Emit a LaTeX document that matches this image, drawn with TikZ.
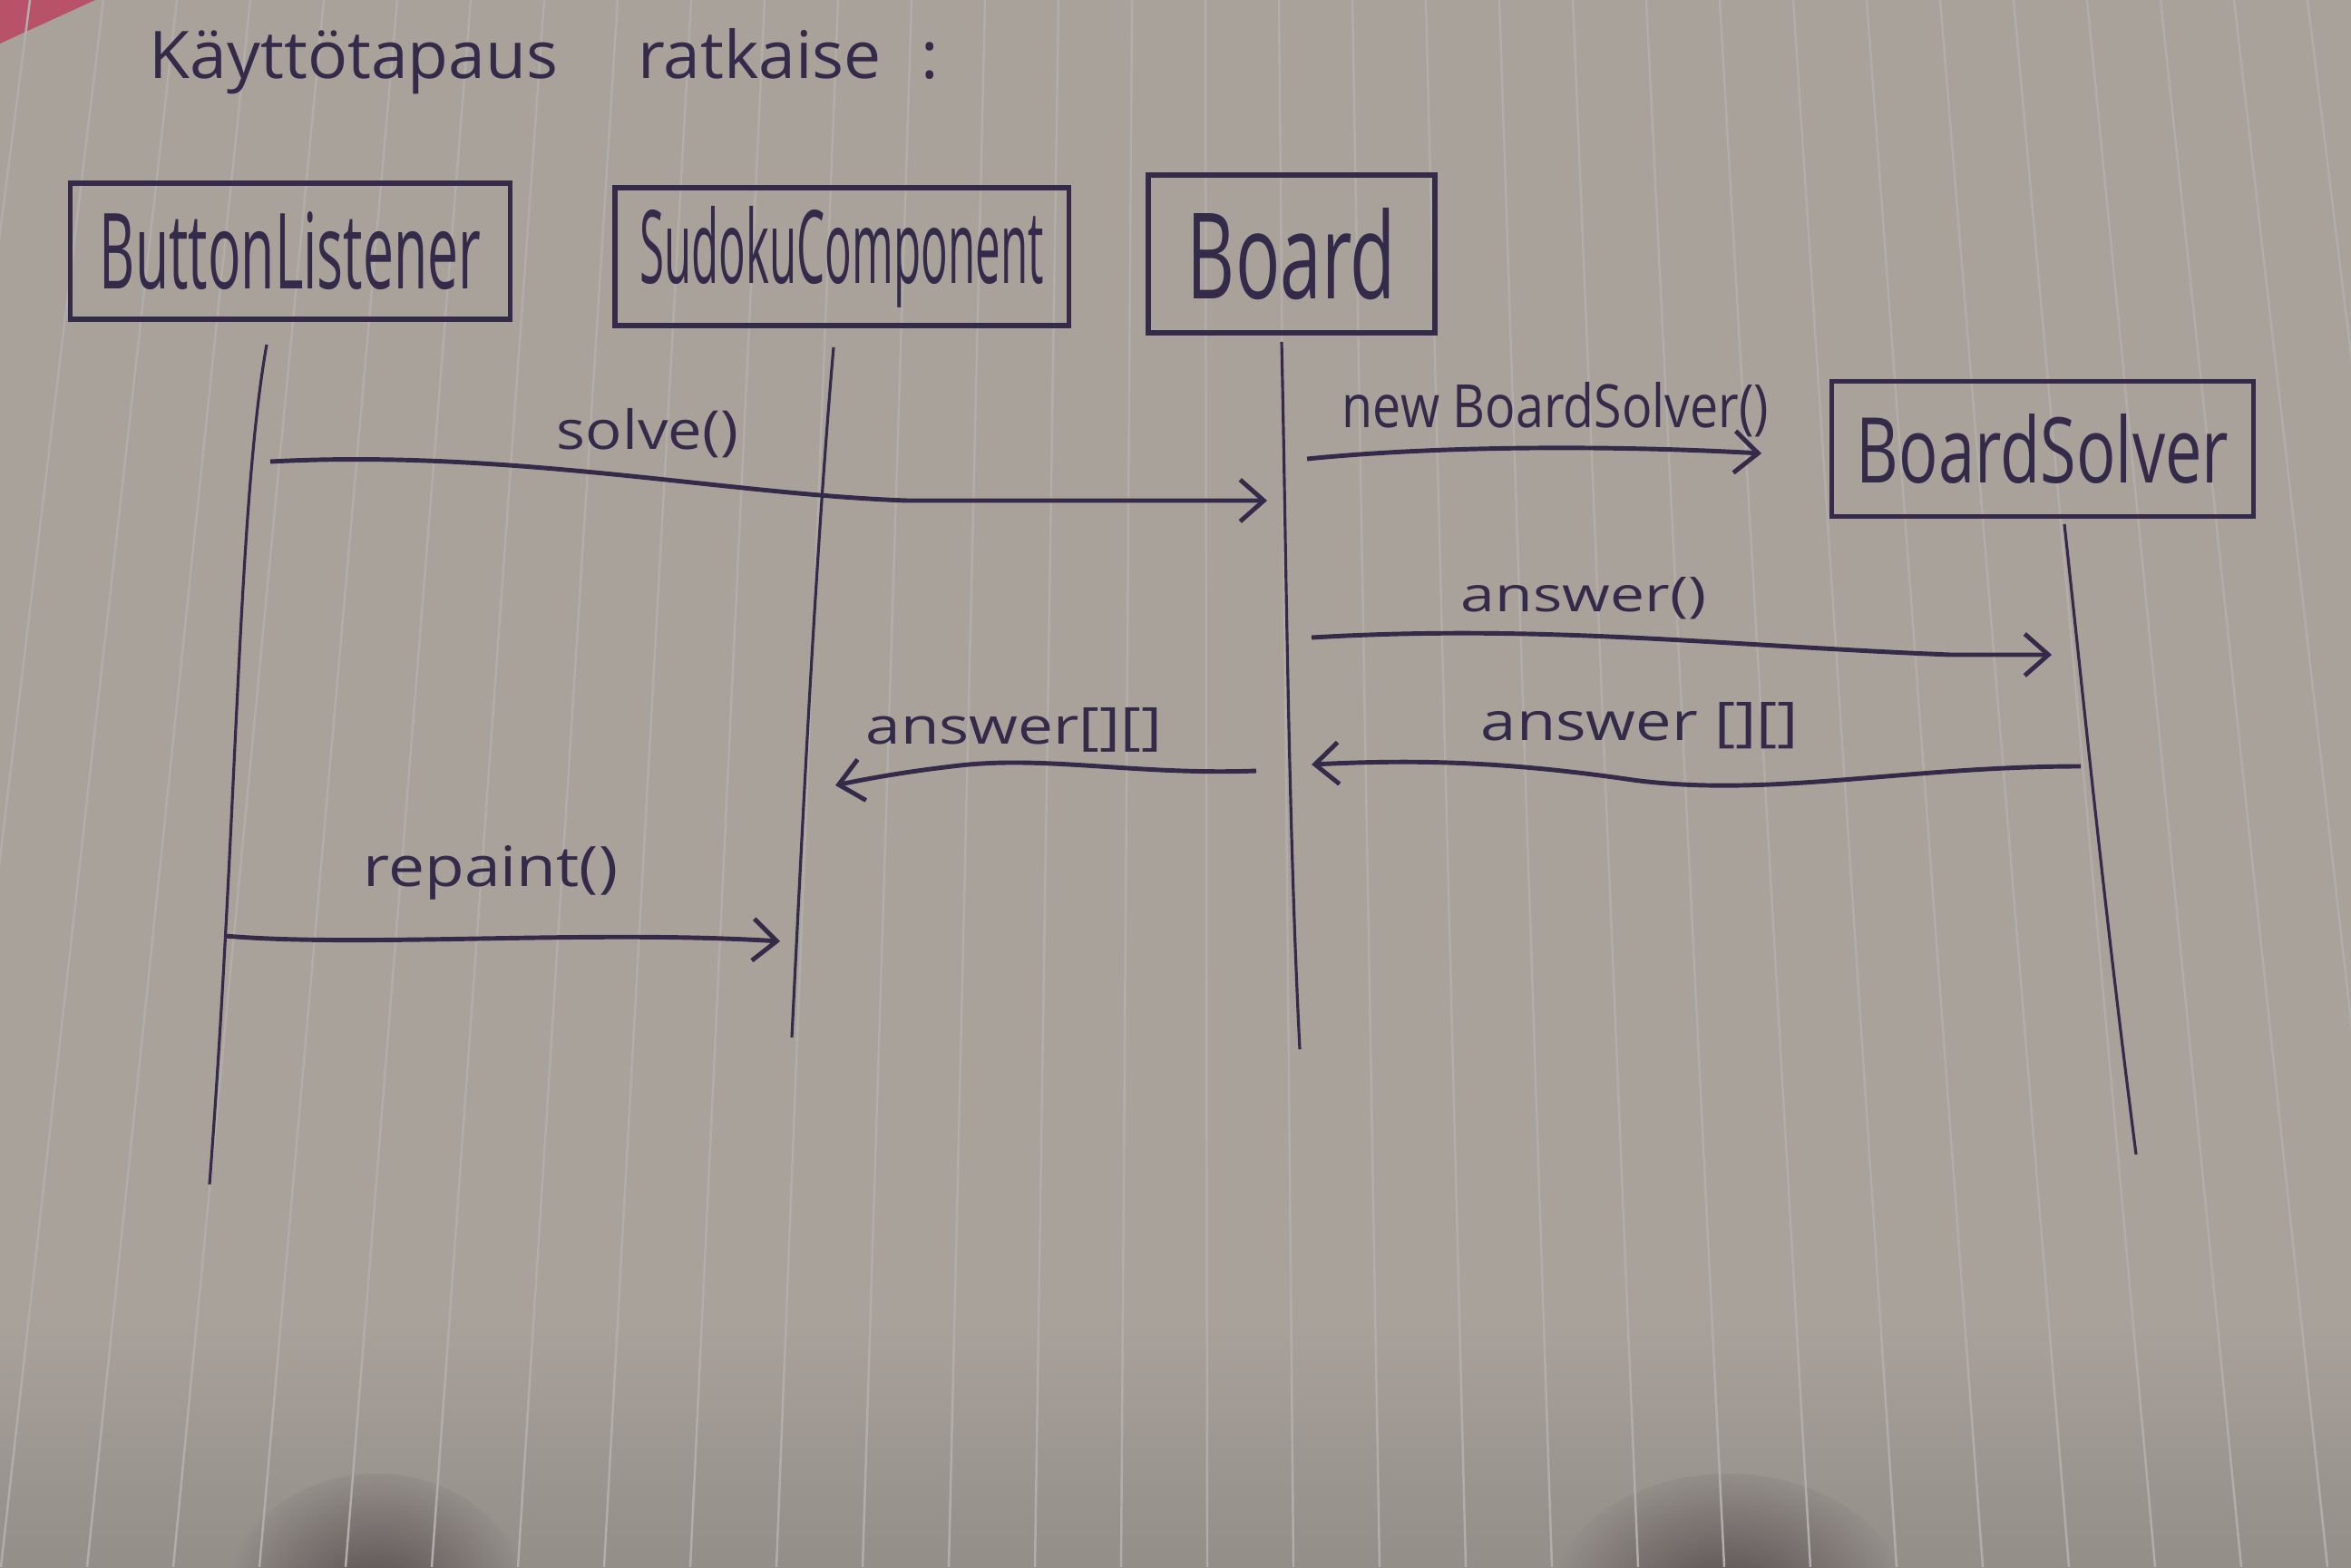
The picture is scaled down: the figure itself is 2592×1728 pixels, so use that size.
\documentclass[tikz,border=0pt]{standalone}
\usepackage{fontspec}
\setmainfont{Open Sans}
\usetikzlibrary{arrows.meta}
\definecolor{paper}{HTML}{A8A29B}
\definecolor{paperdark}{HTML}{948E89}
\definecolor{rulec}{HTML}{B1ADAA}
\definecolor{ink}{HTML}{342B4A}
\definecolor{tablered}{HTML}{B85269}
\definecolor{shadow}{HTML}{4E4749}
\newcommand\hw[3]{\resizebox{#1cm}{#2cm}{#3}}
\begin{document}
\begin{tikzpicture}[x=0.01cm,y=-0.01cm,
  obj/.style={draw=ink, line width=1.5pt, rectangle, inner sep=0pt, text=ink},
  life/.style={draw=ink, line width=0.9pt},
  msg/.style={draw=ink, line width=1.4pt, -{Straight Barb[length=0.26cm,width=0.46cm,line width=1.4pt]}},
  lbl/.style={text=ink, inner sep=0pt}]
% paper
\useasboundingbox (0,0) rectangle (2592,1728);
\fill[paper] (0,0) rectangle (2592,1728);
\shade[top color=paper, bottom color=paperdark] (0,1450) rectangle (2592,1728);
\shade[inner color=shadow, outer color=paperdark] (415,1775) ellipse [x radius=170, y radius=150];
\shade[inner color=shadow, outer color=paperdark] (1905,1775) ellipse [x radius=200, y radius=150];
\fill[tablered] (0,0) -- (105,0) -- (0,48) -- cycle;
\foreach \k in {-16,...,15} {
  \draw[rulec, line width=0.7pt] ({1329+81*\k},0) -- ({1331+95*\k},1728);
}
% title
\node[lbl] (title) at (600,68) {\hw{8.7}{0.55}{Käyttötapaus\hspace{1.2em}ratkaise\hspace{0.6em}:}};
% objects
\node[obj, minimum width=4.84cm, minimum height=1.5cm] (bl) at (320,277) {\hw{4.2}{0.85}{ButtonListener}};
\node[obj, minimum width=5.0cm, minimum height=1.52cm] (sc) at (928,283) {\hw{4.45}{0.85}{SudokuComponent}};
\node[obj, minimum width=3.16cm, minimum height=1.74cm] (bd) at (1424,280) {\hw{2.3}{1.0}{Board}};
\node[obj, minimum width=4.65cm, minimum height=1.49cm] (bs) at (2252,495) {\hw{4.1}{0.76}{BoardSolver}};
% lifelines
\coordinate (blT) at (294,380); \coordinate (blB) at (231,1306);
\coordinate (scT) at (919,383); \coordinate (scB) at (873,1144);
\coordinate (bdT) at (1413,377); \coordinate (bdB) at (1433,1157);
\coordinate (bsT) at (2276,578); \coordinate (bsB) at (2355,1273);
\draw[life] (blT) .. controls (262,560) and (262,900) .. (blB);
\draw[life] (scT) .. controls (900,600) and (885,900) .. (scB);
\draw[life] (bdT) .. controls (1418,600) and (1420,900) .. (bdB);
\draw[life] (bsT) .. controls (2300,800) and (2320,1000) .. (bsB);
% message end points
\coordinate (m1a) at (298,509); \coordinate (m1b) at (1397,552);
\coordinate (m2a) at (1441,506); \coordinate (m2b) at (1942,500);
\coordinate (m3a) at (1446,703); \coordinate (m3b) at (2262,722);
\coordinate (m4a) at (2294,845); \coordinate (m4b) at (1446,843);
\coordinate (m5a) at (1385,850); \coordinate (m5b) at (921,866);
\coordinate (m6a) at (248,1032); \coordinate (m6b) at (860,1038);
% messages
\draw[msg] (m1a) .. controls (560,495) and (800,545) .. (1000,552) -- (m1b);
\node[lbl] (l1) at (714,478) {\hw{2.0}{0.45}{solve()}};
\draw[msg] (m2a) .. controls (1600,490) and (1800,492) .. (m2b);
\node[lbl] (l2) at (1715,452) {\hw{4.7}{0.5}{new BoardSolver()}};
\draw[msg] (m3a) .. controls (1700,688) and (1900,712) .. (2150,722) -- (m3b);
\node[lbl] (l3) at (1746,660) {\hw{2.7}{0.38}{answer()}};
\draw[msg] (m4a) .. controls (2100,845) and (1950,880) .. (1800,860) .. controls (1650,838) and (1550,838) .. (m4b);
\node[lbl] (l4) at (1808,800) {\hw{3.5}{0.42}{answer [][]}};
\draw[msg] (m5a) .. controls (1250,855) and (1150,832) .. (1050,845) .. controls (990,852) and (950,860) .. (m5b);
\node[lbl] (l5) at (1118,805) {\hw{3.26}{0.4}{answer[][]}};
\draw[msg] (m6a) .. controls (400,1045) and (650,1025) .. (m6b);
\node[lbl] (l6) at (541,962) {\hw{2.8}{0.45}{repaint()}};
\end{tikzpicture}
\end{document}
